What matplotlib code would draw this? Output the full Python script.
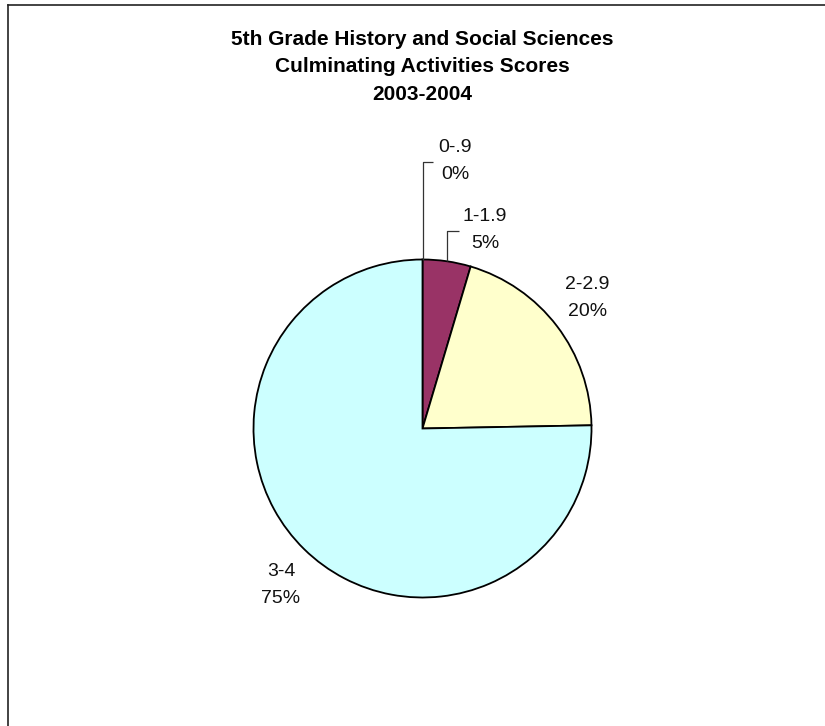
import numpy as np
import matplotlib
matplotlib.use("Agg")
import matplotlib.pyplot as plt
from matplotlib.lines import Line2D

plt.rcParams['font.family'] = ['Liberation Sans', 'DejaVu Sans']

# ---- data ----
title = "5th Grade History and Social Sciences\nCulminating Activities Scores\n2003-2004"
categories = ['0-.9', '1-1.9', '2-2.9', '3-4']
shares = [0.0, 4.6, 20.1, 75.3]
pct_labels = ['0%', '5%', '20%', '75%']

colors = ['#9999FF', '#993366', '#FFFFCC', '#CCFFFF']

W, H = 825, 726
fig = plt.figure(figsize=(W / 100, H / 100), dpi=100)
fig.patch.set_facecolor('white')

# pie geometry in pixels
cx, cy, R = 422.5, 428.5, 169.0
ax = fig.add_axes([(cx - R) / W, (H - cy - R) / H, 2 * R / W, 2 * R / H])

wedges, _ = ax.pie(shares, colors=colors, startangle=90, counterclock=False,
                   radius=1.0,
                   wedgeprops=dict(edgecolor='black', linewidth=1.3))
ax.set_xlim(-1, 1)
ax.set_ylim(-1, 1)
ax.set_aspect('equal')
ax.axis('off')

def to_data(px, py):
    return (px - cx) / R, (cy - py) / R

# label text centres in pixels (layout)
label_pos = [(455, 161), (485, 230), (587.5, 298), (281, 585)]
for cat, pct, (px, py) in zip(categories, pct_labels, label_pos):
    x, y = to_data(px, py)
    ax.text(x, y, f"{cat}\n{pct}", ha='center', va='center', fontsize=14,
            linespacing=1.7, color='#111111', clip_on=False)

# leader lines for the two small slices
cum = np.cumsum([0] + shares)
total = cum[-1]
leader_elbow = {0: (162, 433), 1: (231, 459)}
for i, (ey, hx) in leader_elbow.items():
    mid = (cum[i] + cum[i + 1]) / 2 / total * 2 * np.pi
    ex_, ey_ = np.sin(mid), np.cos(mid)
    _, yel = to_data(0, ey)
    xh, _ = to_data(hx, 0)
    ax.plot([ex_, ex_, xh], [ey_, yel, yel], color='#333333', lw=0.9,
            clip_on=False, solid_capstyle='butt')

fig.text(cx / W, 1 - 67 / H, title, ha='center', va='center', fontsize=15,
         fontweight='bold', linespacing=1.55, color='black')

# chart-area border (top and left only visible)
fig.add_artist(Line2D([8 / W, 1], [1 - 4.5 / H, 1 - 4.5 / H], color='#222222', lw=1.2,
                      transform=fig.transFigure))
fig.add_artist(Line2D([8 / W, 8 / W], [0, 1 - 4.5 / H], color='#222222', lw=1.2,
                      transform=fig.transFigure))

fig.savefig('out.png', dpi=100, facecolor='white')
